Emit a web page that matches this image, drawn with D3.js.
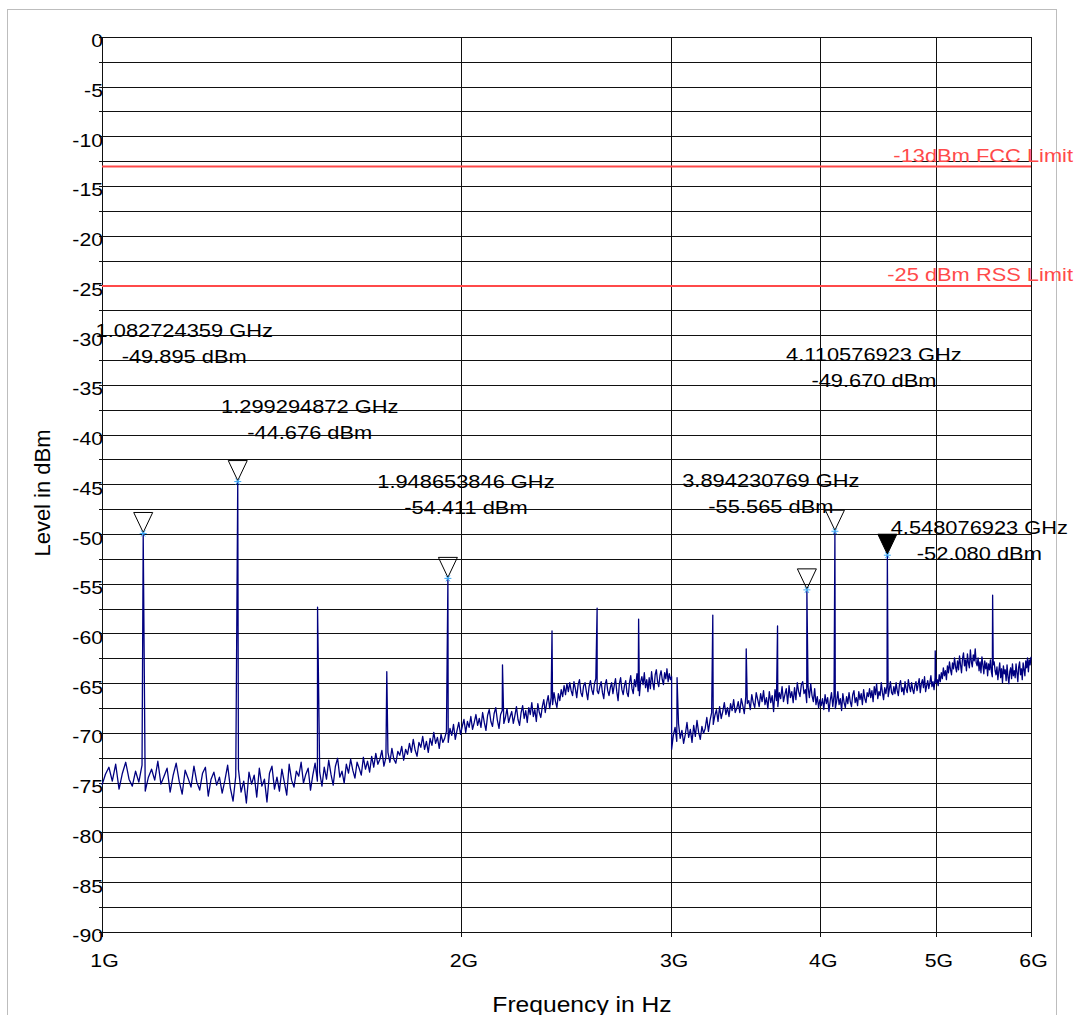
<!DOCTYPE html>
<meta charset="utf-8">
<style>
  body { margin: 0; background: #fff; }
  svg { display: block; font-family: "Liberation Sans", Arial, sans-serif; }
</style>
<svg width="1076" height="1015"></svg>
<script src="https://cdn.jsdelivr.net/npm/d3@7"></script>
<script>

// sweep ranges of the analyser (Hz)
var sweepStart = [1e9, 3e9],
    sweepStop = [3e9, 6e9];

// noise floor, 1 - 3 GHz (dBm)
var sweep1Levels = [
  -75.2,-74.1,-73.4,-74.8,-73.1,-75.6,-74.0,-72.9,-74.6,-75.3,-73.8,-74.9,-73.2,-75.8,-74.4,-73.6,-74.7,-72.8,-75.1,-74.3,
  -73.5,-75.9,-74.2,-73.0,-74.8,-76.1,-73.7,-74.5,-75.4,-73.3,-74.9,-75.7,-74.0,-73.4,-76.3,-74.6,-73.9,-75.2,-74.4,-76.0,
  -74.7,-73.2,-75.5,-76.8,-74.3,-73.6,-75.9,-74.8,-77.0,-73.9,-75.1,-74.2,-76.4,-73.5,-75.3,-74.6,-76.9,-74.0,-73.3,-75.6,
  -74.4,-75.8,-73.6,-74.9,-76.2,-73.1,-74.7,-75.4,-73.8,-74.3,-72.9,-75.0,-74.1,-73.5,-75.7,-74.2,-73.0,-74.8,-73.9,-75.3,
  -73.4,-74.6,-72.7,-74.1,-75.2,-73.3,-72.5,-74.4,-73.8,-75.0,-73.1,-74.0,-72.6,-73.7,-74.5,-72.9,-73.5,-74.2,-72.4,-73.6,
  -72.8,-73.9,-72.3,-73.4,-72.0,-73.1,-72.6,-71.7,-73.3,-72.4,-71.9,-72.9,-71.5,-72.6,-73.0,-71.8,-72.2,-71.3,-72.7,-71.6,
  -72.1,-71.0,-71.9,-70.6,-71.7,-72.3,-70.9,-71.4,-70.3,-71.6,-70.8,-71.9,-70.5,-71.2,-69.9,-71.0,-70.4,-71.5,-70.1,-70.9,
  -70.5,-69.8,-70.9,-69.5,-70.2,-69.1,-70.6,-69.7,-68.9,-70.1,-69.3,-68.6,-69.9,-68.8,-69.4,-68.3,-69.6,-68.9,-68.1,-69.2,
  -68.5,-69.4,-67.9,-68.9,-69.7,-68.2,-67.6,-68.8,-69.3,-68.0,-67.4,-68.7,-69.5,-68.1,-67.7,-69.0,-68.4,-67.5,-68.9,-68.3,
  -67.8,-69.0,-68.2,-67.3,-68.6,-69.2,-67.9,-67.2,-68.5,-67.7,-68.9,-67.4,-68.1,-66.9,-68.3,-67.6,-68.8,-67.0,-67.9,-68.4,
  -67.3,-66.6,-67.9,-66.9,-66.2,-67.5,-66.4,-67.1,-65.9,-66.8,-67.4,-66.0,-66.7,-65.6,-66.3,-65.2,-66.1,-65.0,-65.8,-64.9,
  -65.7,-66.2,-64.8,-65.5,-66.4,-65.1,-64.6,-65.9,-66.3,-65.2,-64.9,-65.8,-66.6,-65.3,-64.7,-65.6,-66.1,-65.0,-64.5,-65.7,
  -66.0,-65.3,-64.8,-65.9,-66.5,-65.1,-64.6,-65.7,-66.2,-65.4,-64.9,-66.0,-65.2,-64.5,-65.8,-66.7,-65.0,-64.4,-65.6,-66.1,
  -65.2,-64.7,-65.9,-66.3,-64.9,-64.2,-65.5,-66.0,-64.6,-65.3,-64.0,-65.7,-66.2,-64.8,-64.3,-65.1,-63.9,-65.4,-64.6,-65.8,
  -64.4,-65.5,-63.8,-64.9,-65.6,-64.1,-63.6,-64.8,-65.3,-64.2,-63.7,-64.6,-65.1,-63.9,-64.5,-63.5,-64.8,-64.0,-64.6,-64.3
];

// noise floor, 3 - 6 GHz (dBm)
var sweep2Levels = [
  -71.6,-70.2,-69.4,-70.8,-69.0,-70.5,-69.7,-71.0,-70.1,-68.9,-70.4,-69.6,-70.9,-69.2,-70.3,-68.7,-69.9,-70.6,-69.3,-70.0,
  -69.5,-68.4,-69.8,-68.7,-67.9,-69.1,-68.2,-67.6,-68.8,-67.3,-68.5,-67.8,-66.9,-68.1,-67.4,-68.3,-67.0,-67.7,-66.6,-67.9,
  -67.5,-66.8,-67.9,-66.5,-67.2,-68.0,-66.3,-67.0,-66.7,-67.6,-66.1,-66.9,-67.4,-65.9,-66.6,-67.3,-66.0,-66.8,-65.7,-67.1,
  -66.4,-67.5,-65.8,-66.9,-66.2,-67.8,-65.6,-66.7,-67.3,-65.9,-66.5,-65.3,-66.8,-66.1,-65.5,-67.0,-65.2,-66.4,-65.8,-66.9,
  -65.4,-66.6,-64.9,-65.8,-66.3,-65.1,-64.8,-66.0,-65.6,-66.9,-65.3,-66.4,-65.0,-66.2,-66.8,-65.5,-67.1,-66.3,-67.4,-66.6,
  -67.2,-66.5,-67.6,-66.1,-67.0,-66.4,-67.8,-66.7,-65.9,-67.3,-66.2,-67.5,-66.8,-65.8,-67.1,-66.5,-67.7,-66.0,-66.9,-67.4,
  -66.3,-67.0,-65.9,-66.8,-67.3,-66.1,-65.7,-66.9,-66.4,-67.2,-65.8,-66.6,-66.0,-67.1,-65.6,-66.5,-66.9,-65.9,-66.3,-65.5,
  -66.4,-65.7,-66.8,-65.3,-66.1,-65.0,-66.5,-65.8,-66.2,-64.9,-65.9,-66.6,-65.4,-66.0,-65.2,-66.3,-65.6,-64.8,-65.9,-66.1,
  -65.3,-66.0,-64.9,-65.7,-66.2,-65.1,-64.7,-65.8,-65.4,-66.1,-64.8,-65.5,-65.9,-64.6,-65.3,-65.8,-64.9,-65.6,-66.0,-65.2,
  -64.8,-65.7,-65.1,-64.5,-65.9,-65.0,-64.6,-65.4,-64.3,-65.8,-65.2,-64.7,-65.5,-64.9,-64.2,-65.3,-64.8,-65.6,-64.4,-64.9,
  -64.6,-65.2,-64.1,-64.8,-63.9,-64.5,-63.4,-64.2,-63.7,-64.6,-63.2,-63.9,-62.8,-63.6,-64.1,-62.9,-63.5,-62.4,-63.3,-63.8,
  -62.7,-63.6,-62.2,-63.1,-63.9,-62.5,-61.9,-63.2,-62.6,-63.7,-62.0,-62.9,-63.4,-61.6,-62.8,-63.3,-62.1,-62.7,-61.5,-62.9,
  -63.2,-62.4,-63.7,-62.8,-63.9,-62.3,-63.1,-64.0,-62.7,-63.5,-62.9,-64.2,-63.0,-63.6,-62.6,-63.8,-64.3,-63.1,-62.8,-63.7,
  -64.1,-63.3,-64.6,-63.7,-62.9,-64.4,-63.5,-64.9,-63.2,-64.0,-63.6,-64.7,-63.1,-64.3,-65.0,-63.8,-63.4,-64.5,-63.0,-64.2,
  -63.7,-64.4,-63.0,-63.9,-64.8,-63.3,-62.8,-64.1,-63.5,-64.6,-62.9,-63.6,-64.2,-62.7,-63.4,-62.4,-63.8,-62.6,-63.1,-62.3
];

// spurious lines standing out of the noise (Hz, dBm)
var spurFreqs = [1082724359, 1299294872, 1515500000, 1732000000, 1948653846, 2165000000, 2382000000,
                 2598500000, 2815000000, 3031700000, 3248000000, 3464300000, 3680000000, 3894230769,
                 4110576923, 4548076923, 4988000000, 5572000000];
var spurLevels = [-49.895, -44.676, -57.3, -63.8, -54.411, -63.1, -59.7,
                  -57.4, -58.5, -64.4, -58.1, -61.5, -59.2, -55.565,
                  -49.670, -52.080, -61.7, -56.1];

// markers
var markerFreqs = [1082724359, 1299294872, 1948653846, 3894230769, 4110576923, 4548076923];
var markerLevels = [-49.895, -44.676, -54.411, -55.565, -49.670, -52.080];
var markerActive = [false, false, false, false, false, true];

// limit lines
var limitLevels = [-13, -25];
var limitLabels = ["-13dBm FCC Limit", "-25 dBm RSS Limit"];

// ticks
var xTickValues = [1e9, 2e9, 3e9, 4e9, 5e9, 6e9];
var xTickLabels = ["1G", "2G", "3G", "4G", "5G", "6G"];
var yTickValues = [0, -5, -10, -15, -20, -25, -30, -35, -40, -45, -50, -55, -60, -65, -70, -75, -80, -85, -90];
var yGridValues = d3.range(0, -90.1, -2.5);

// where the marker read-outs sit, relative to the marker (px)
var labelOffsets = [[41, -196], [72, -69], [18, -90], [-36, -103], [39, -170], [92, -21]];

var svg = d3.select("svg"),
    plotL = 102, plotR = 1031, plotT = 37.3, plotB = 932.3;

var x = d3.scaleLog().domain([1e9, 6e9]).range([plotL, plotR]);
var y = d3.scaleLinear().domain([0, -90]).range([plotT, plotB]);

// text slightly wider than the font, like the original picture
function stext(parent, px, py, str, size, k, anchor) {
  return parent.append("g")
      .attr("transform", "translate(" + px + "," + py + ") scale(" + k + ",1)")
    .append("text")
      .attr("text-anchor", anchor)
      .style("font-size", size + "px")
      .text(str);
}

// outer frame
svg.append("rect")
    .attr("x", 7.5).attr("y", 9.5)
    .attr("width", 1049).attr("height", 1020)
    .attr("fill", "none")
    .attr("stroke", "#bdbdbd");

// grid
var grid = svg.append("g")
    .attr("stroke", "#111")
    .attr("stroke-width", 1)
    .attr("shape-rendering", "crispEdges");
grid.selectAll(".hy")
  .data(yGridValues)
  .enter().append("line")
    .attr("x1", plotL - 3).attr("x2", plotR)
    .attr("y1", function(d) { return y(d); })
    .attr("y2", function(d) { return y(d); });
grid.selectAll(".vx")
  .data(xTickValues)
  .enter().append("line")
    .attr("x1", function(d) { return x(d); })
    .attr("x2", function(d) { return x(d); })
    .attr("y1", plotT).attr("y2", plotB + 5);

// tick labels
yTickValues.forEach(function(v) {
  stext(svg, 103, y(v) + 10, String(v), 18, 1.18, "end");
});
xTickValues.forEach(function(v, i) {
  stext(svg, x(v) + 2.5, 967, xTickLabels[i], 18, 1.18, "middle");
});

// axis titles
stext(svg, 582, 1012, "Frequency in Hz", 22, 1.12, "middle");
svg.append("text")
    .attr("transform", "translate(50,493) rotate(-90)")
    .attr("text-anchor", "middle")
    .style("font-size", "22px")
    .text("Level in dBm");

// limit lines
limitLevels.forEach(function(v, i) {
  svg.append("line")
      .attr("x1", plotL).attr("x2", plotR)
      .attr("y1", y(v)).attr("y2", y(v))
      .attr("stroke", "#ff4a4a")
      .attr("stroke-width", 2);
  stext(svg, 1073, y(v) - 5, limitLabels[i], 19, 1.15, "end")
      .attr("fill", "#ff4a4a");
});

// trace: each sweep with its spurs merged in
var trace = [];
[sweep1Levels, sweep2Levels].forEach(function(levels, k) {
  var f0 = sweepStart[k], f1 = sweepStop[k],
      step = (f1 - f0) / (levels.length - 1),
      pts = levels.map(function(v, i) { return {f: f0 + i * step, v: v}; });
  spurFreqs.forEach(function(f, j) {
    if (f > f0 && f < f1) pts.push({f: f, v: spurLevels[j]});
  });
  pts.sort(function(a, b) { return a.f - b.f; });
  trace = trace.concat(pts);
});

svg.append("path")
    .datum(trace)
    .attr("fill", "none")
    .attr("stroke", "#000080")
    .attr("stroke-width", 1.3)
    .attr("stroke-linejoin", "round")
    .attr("d", d3.line()
      .x(function(d) { return x(d.f); })
      .y(function(d) { return y(d.v); }));

// markers
var mk = svg.selectAll(".marker")
  .data(markerFreqs.map(function(f, i) {
    return {f: f, v: markerLevels[i], active: markerActive[i], off: labelOffsets[i]};
  }))
  .enter().append("g")
    .attr("class", "marker")
    .attr("transform", function(d) { return "translate(" + x(d.f) + "," + y(d.v) + ")"; });

mk.append("path")
    .attr("d", "M0,-1 L-9.5,-21 L9.5,-21 Z")
    .attr("fill", function(d) { return d.active ? "#000" : "none"; })
    .attr("stroke", "#000")
    .attr("stroke-width", 1);

mk.append("path")
    .attr("d", "M-3.5,0 L3.5,0 M-2,-3 L2,3 M-2,3 L2,-3")
    .attr("stroke", "#3fa9f5")
    .attr("stroke-width", 1);

mk.each(function(d) {
  var g = d3.select(this);
  stext(g, d.off[0], d.off[1], (d.f / 1e9).toFixed(9) + " GHz", 19, 1.15, "middle");
  stext(g, d.off[0], d.off[1] + 26, d.v.toFixed(3) + " dBm", 19, 1.15, "middle");
});

</script>
